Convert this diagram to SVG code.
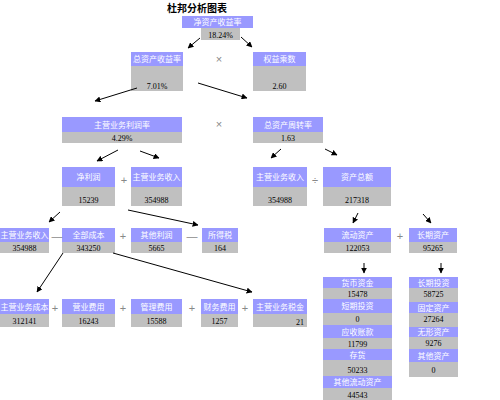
<svg xmlns="http://www.w3.org/2000/svg" width="500" height="400" viewBox="0 0 500 400">
<defs>
<marker id="ah" viewBox="0 0 10 10" refX="9" refY="5" markerWidth="6" markerHeight="6" orient="auto" markerUnits="userSpaceOnUse">
<path d="M0,0 L10,5 L0,10 z" fill="#000"/>
</marker>
<style>
.h{fill:#9999ff}
.v{fill:#c0c0c0}
.ht{fill:#fff;font-family:"Liberation Sans","Noto Sans CJK SC",sans-serif;font-size:8px;text-anchor:middle}
.vt{fill:#000;font-family:"Liberation Serif","Noto Sans CJK SC",serif;font-size:8px;text-anchor:middle}
.op{fill:#888;font-family:"Liberation Sans",sans-serif;font-size:11px;text-anchor:middle}
.c line{stroke:#000;stroke-width:1;marker-end:url(#ah)}
</style>
</defs>
<rect width="500" height="400" fill="#fff"/>
<text x="197" y="12" font-family="'Noto Sans CJK SC',sans-serif" font-size="10" font-weight="bold" text-anchor="middle" fill="#000">杜邦分析图表</text>

<g id="n_roe"><rect class="h" x="182" y="16" width="71" height="12"/><rect class="v" x="201" y="28" width="39" height="12"/><text class="ht" x="217.5" y="25">净资产收益率</text><text class="vt" x="220.5" y="37.5">18.24%</text></g>
<g id="n_roa"><rect class="h" x="131" y="52" width="52" height="14"/><rect class="v" x="131" y="66" width="52" height="25"/><text class="ht" x="157" y="62">总资产收益率</text><text class="vt" x="157" y="89">7.01%</text></g>
<g id="n_em"><rect class="h" x="253" y="52" width="53" height="14"/><rect class="v" x="253" y="66" width="53" height="25"/><text class="ht" x="279.5" y="62">权益乘数</text><text class="vt" x="279.5" y="89">2.60</text></g>
<g id="n_pm"><rect class="h" x="62" y="117" width="120" height="15"/><rect class="v" x="62" y="132" width="120" height="11"/><text class="ht" x="122" y="127.5">主营业务利润率</text><text class="vt" x="122" y="140.5">4.29%</text></g>
<g id="n_tat"><rect class="h" x="253" y="117" width="70" height="15"/><rect class="v" x="253" y="132" width="70" height="11"/><text class="ht" x="288" y="127.5">总资产周转率</text><text class="vt" x="288" y="140.5">1.63</text></g>

<g id="n_np"><rect class="h" x="62" y="167" width="53" height="20"/><rect class="v" x="62" y="187" width="53" height="19"/><text class="ht" x="88.5" y="180">净利润</text><text class="vt" x="88.5" y="203">15239</text></g>
<g id="n_rev1"><rect class="h" x="131" y="167" width="51" height="20"/><rect class="v" x="131" y="187" width="51" height="19"/><text class="ht" x="156.5" y="180">主营业务收入</text><text class="vt" x="156.5" y="203">354988</text></g>
<g id="n_rev2"><rect class="h" x="253" y="167" width="54" height="20"/><rect class="v" x="253" y="187" width="54" height="19"/><text class="ht" x="280" y="180">主营业务收入</text><text class="vt" x="280" y="203">354988</text></g>
<g id="n_ta"><rect class="h" x="323" y="167" width="68" height="20"/><rect class="v" x="323" y="187" width="68" height="19"/><text class="ht" x="357" y="180">资产总额</text><text class="vt" x="357" y="203">217318</text></g>

<g id="n_rev3"><rect class="h" x="0" y="228" width="49" height="14"/><rect class="v" x="0" y="242" width="49" height="11"/><text class="ht" x="24.5" y="238">主营业务收入</text><text class="vt" x="24.5" y="250.5">354988</text></g>
<g id="n_cost"><rect class="h" x="62" y="228" width="53" height="14"/><rect class="v" x="62" y="242" width="53" height="11"/><text class="ht" x="88.5" y="238">全部成本</text><text class="vt" x="88.5" y="250.5">343250</text></g>
<g id="n_other"><rect class="h" x="131" y="228" width="51" height="14"/><rect class="v" x="131" y="242" width="51" height="11"/><text class="ht" x="156.5" y="238">其他利润</text><text class="vt" x="156.5" y="250.5">5665</text></g>
<g id="n_tax"><rect class="h" x="202" y="228" width="36" height="14"/><rect class="v" x="202" y="242" width="36" height="11"/><text class="ht" x="220" y="238">所得税</text><text class="vt" x="220" y="250.5">164</text></g>
<g id="n_ca"><rect class="h" x="324" y="228" width="67" height="14"/><rect class="v" x="324" y="242" width="67" height="11"/><text class="ht" x="357.5" y="238">流动资产</text><text class="vt" x="357.5" y="250.5">122053</text></g>
<g id="n_lta"><rect class="h" x="409" y="228" width="48" height="14"/><rect class="v" x="409" y="242" width="48" height="11"/><text class="ht" x="433" y="238">长期资产</text><text class="vt" x="433" y="250.5">95265</text></g>

<g id="n_cogs"><rect class="h" x="0" y="299" width="49" height="15"/><rect class="v" x="0" y="314" width="49" height="13"/><text class="ht" x="24.5" y="309.5">主营业务成本</text><text class="vt" x="24.5" y="323.5">312141</text></g>
<g id="n_sell"><rect class="h" x="62" y="299" width="53" height="15"/><rect class="v" x="62" y="314" width="53" height="13"/><text class="ht" x="88.5" y="309.5">营业费用</text><text class="vt" x="88.5" y="323.5">16243</text></g>
<g id="n_admin"><rect class="h" x="131" y="299" width="51" height="15"/><rect class="v" x="131" y="314" width="51" height="13"/><text class="ht" x="156.5" y="309.5">管理费用</text><text class="vt" x="156.5" y="323.5">15588</text></g>
<g id="n_fin"><rect class="h" x="201" y="299" width="37" height="15"/><rect class="v" x="201" y="314" width="37" height="13"/><text class="ht" x="219.5" y="309.5">财务费用</text><text class="vt" x="219.5" y="323.5">1257</text></g>
<g id="n_btax"><rect class="h" x="253" y="299" width="54" height="15"/><rect class="v" x="253" y="314" width="54" height="13"/><text class="ht" x="280" y="309.5">主营业务税金</text><text class="vt" x="304" y="325" font-size="10" text-anchor="end" style="text-anchor:end">21</text></g>

<g id="n_cur_stack">
<rect class="h" x="323" y="277" width="69" height="11"/><rect class="v" x="323" y="288" width="69" height="11"/><text class="ht" x="357.5" y="285.5">货币资金</text><text class="vt" x="357.5" y="297">15478</text>
<rect class="h" x="323" y="299" width="69" height="14"/><rect class="v" x="323" y="313" width="69" height="12"/><text class="ht" x="357.5" y="309">短期投资</text><text class="vt" x="357.5" y="322">0</text>
<rect class="h" x="323" y="325" width="69" height="13"/><rect class="v" x="323" y="338" width="69" height="11"/><text class="ht" x="357.5" y="334.5">应收账款</text><text class="vt" x="357.5" y="346.5">11799</text>
<rect class="h" x="323" y="349" width="69" height="11"/><rect class="v" x="323" y="360" width="69" height="16"/><text class="ht" x="357.5" y="357.5">存货</text><text class="vt" x="357.5" y="373">50233</text>
<rect class="h" x="323" y="376" width="69" height="12"/><rect class="v" x="323" y="388" width="69" height="12"/><text class="ht" x="357.5" y="385">其他流动资产</text><text class="vt" x="357.5" y="397.5">44543</text>
</g>
<g id="n_lt_stack">
<rect class="h" x="409" y="277" width="49" height="11"/><rect class="v" x="409" y="288" width="49" height="11"/><text class="ht" x="433.5" y="285.5">长期投资</text><text class="vt" x="433.5" y="297">58725</text>
<rect class="v" x="409" y="299" width="49" height="3"/><rect class="h" x="409" y="302" width="49" height="11"/><rect class="v" x="409" y="313" width="49" height="14"/><text class="ht" x="433.5" y="310.5">固定资产</text><text class="vt" x="433.5" y="322">27264</text>
<rect class="h" x="409" y="327" width="49" height="10"/><rect class="v" x="409" y="337" width="49" height="12"/><text class="ht" x="433.5" y="334.5">无形资产</text><text class="vt" x="433.5" y="346">9276</text>
<rect class="h" x="409" y="349" width="49" height="13"/><rect class="v" x="409" y="362" width="49" height="15"/><text class="ht" x="433.5" y="358.5">其他资产</text><text class="vt" x="433.5" y="373">0</text>
</g>

<g id="ops">
<text class="op" x="219" y="63">×</text>
<text class="op" x="219" y="128">×</text>
<text class="op" x="124" y="184">+</text>
<text class="op" x="315" y="184">÷</text>
<text class="op" x="57" y="240">—</text>
<text class="op" x="123" y="240">+</text>
<text class="op" x="192" y="240">—</text>
<text class="op" x="400" y="240">+</text>
<text class="op" x="55" y="312">+</text>
<text class="op" x="123" y="312">+</text>
<text class="op" x="192" y="312">+</text>
<text class="op" x="245" y="312">+</text>
</g>

<g id="connectors" class="c">
<line x1="200" y1="38" x2="188" y2="48"/>
<line x1="241" y1="37" x2="252" y2="47"/>
<line x1="137" y1="88" x2="95" y2="101"/>
<line x1="198" y1="83" x2="247" y2="98"/>
<line x1="118" y1="150" x2="97" y2="161"/>
<line x1="140" y1="151" x2="159" y2="158"/>
<line x1="281" y1="149" x2="271" y2="158"/>
<line x1="325" y1="149" x2="337" y2="155"/>
<line x1="60" y1="212" x2="49" y2="222"/>
<line x1="128" y1="210" x2="198" y2="225"/>
<line x1="358" y1="213" x2="353" y2="223"/>
<line x1="423" y1="214" x2="431" y2="223"/>
<line x1="63" y1="253" x2="37" y2="292"/>
<line x1="113" y1="253" x2="252" y2="292"/>
<line x1="364" y1="263" x2="364" y2="273"/>
<line x1="441" y1="263" x2="441" y2="273"/>
</g>
</svg>
